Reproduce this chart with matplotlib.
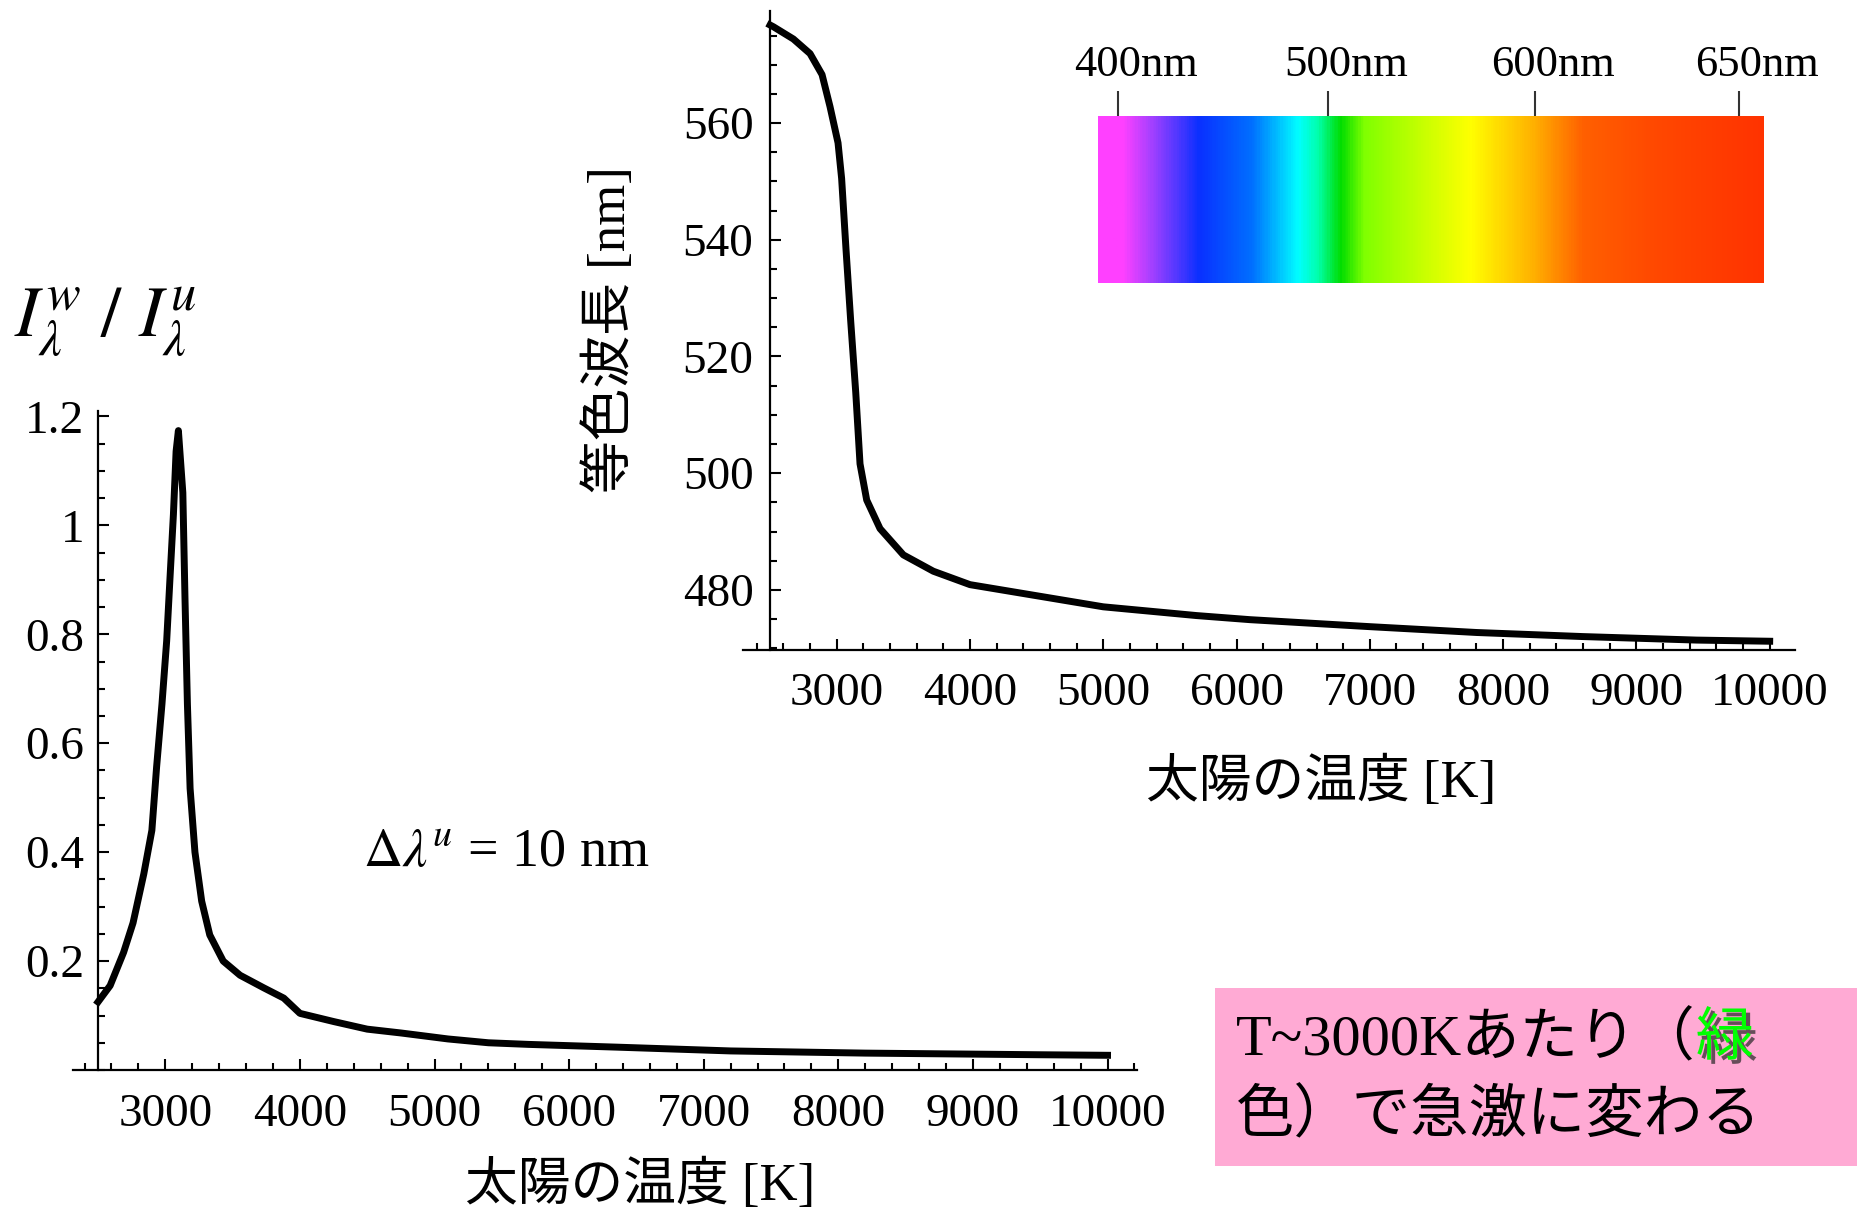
import numpy as np
import matplotlib
matplotlib.use("Agg")
import matplotlib.pyplot as plt
import matplotlib.patheffects as pe
from matplotlib.colors import LinearSegmentedColormap
from matplotlib.patches import Rectangle
from matplotlib.ticker import MultipleLocator, FixedLocator, FixedFormatter

plt.rcParams['mathtext.fontset'] = 'stix'

# ratio I_w / I_u vs sun temperature (left panel)
T_ratio = [2500, 2590, 2690, 2760, 2840, 2900, 2935, 2975, 3010, 3035, 3060,
           3080, 3097, 3130, 3146, 3164, 3184, 3220, 3270, 3330, 3430, 3555,
           3730, 3880, 4000, 4250, 4500, 4750, 5100, 5400, 5700, 6350, 7200,
           8200, 9500, 10000]
ratio = [0.125, 0.155, 0.216, 0.27, 0.36, 0.44, 0.556, 0.672, 0.788, 0.905,
         1.02, 1.136, 1.174, 1.06, 0.866, 0.672, 0.517, 0.40, 0.31, 0.248,
         0.20, 0.174, 0.151, 0.132, 0.104, 0.089, 0.075, 0.068, 0.057, 0.050,
         0.047, 0.042, 0.035, 0.031, 0.028, 0.027]

# matching wavelength vs sun temperature (right panel)
T_wave = [2500, 2525, 2675, 2800, 2890, 2950, 3010, 3037, 3070, 3105, 3143,
          3175, 3225, 3325, 3500, 3725, 4000, 4500, 5000, 5700, 6100, 7000,
          7800, 8600, 9450, 10000]
wave = [576.8, 576.5, 574.4, 571.9, 568.3, 562.8, 556.6, 550.5, 538.3, 526.1,
        513.8, 501.6, 495.4, 490.5, 486.0, 483.2, 480.9, 479.0, 477.1, 475.6,
        474.9, 473.7, 472.7, 472.0, 471.4, 471.2]

x_ticks = [3000, 4000, 5000, 6000, 7000, 8000, 9000, 10000]
ratio_ticks = [0.2, 0.4, 0.6, 0.8, 1.0, 1.2]
ratio_labels = ['0.2', '0.4', '0.6', '0.8', '1', '1.2']
wave_ticks = [480, 500, 520, 540, 560]

# colour bar of the visible spectrum
spectrum_labels = ['400nm', '500nm', '600nm', '650nm']
spectrum_tick_pos = [0.030, 0.345, 0.656, 0.962]
spectrum_stops = [0.0, 0.035, 0.08, 0.15, 0.23, 0.30, 0.33, 0.364, 0.40,
                  0.45, 0.56, 0.655, 0.73, 0.84, 1.0]
spectrum_colors = ['#FF40FF', '#FF40FF', '#A040FF', '#0A30FF', '#0070FF',
                   '#00FFFF', '#00FFAA', '#00DD00', '#80FF00', '#AAFF00',
                   '#FFFF00', '#FFB000', '#FF6000', '#FF4800', '#FF3300']

W, H = 1858, 1214
SERIF = 'Liberation Serif'
JP = ['Liberation Serif', 'Noto Sans CJK JP']

fig = plt.figure(figsize=(W / 100, H / 100), dpi=100)


def px_axes(x0, y0, x1, y1):
    # rectangle given in pixels from the top-left corner
    return fig.add_axes([x0 / W, 1 - y1 / H, (x1 - x0) / W, (y1 - y0) / H])


def style_axes(ax, y_minor):
    for s in ['top', 'right']:
        ax.spines[s].set_visible(False)
    ax.spines['left'].set_position(('data', 2500))
    for s in ['left', 'bottom']:
        ax.spines[s].set_linewidth(1.6)
    ax.xaxis.set_major_locator(FixedLocator(x_ticks))
    ax.xaxis.set_minor_locator(MultipleLocator(200))
    ax.yaxis.set_minor_locator(MultipleLocator(y_minor))
    ax.tick_params(which='both', direction='in', width=1.5)
    ax.tick_params(which='major', length=8)
    ax.tick_params(which='minor', length=5)
    for lab in ax.get_xticklabels() + ax.get_yticklabels():
        lab.set_fontfamily(SERIF)
        lab.set_fontsize(34)


# ---- left panel ----
axL = px_axes(73, 411, 1137, 1070)
axL.plot(T_ratio, ratio, color='black', lw=5)
axL.set_xlim(2314, 10219)
axL.set_ylim(0, 1.21)
axL.yaxis.set_major_locator(FixedLocator(ratio_ticks))
axL.yaxis.set_major_formatter(FixedFormatter(ratio_labels))
style_axes(axL, 0.05)
axL.tick_params(axis='x', pad=17)
axL.tick_params(axis='y', pad=10)

# ---- right panel ----
axR = px_axes(743, 11, 1795, 650)
axR.plot(T_wave, wave, color='black', lw=5)
axR.set_xlim(2297, 10190)
axR.set_ylim(469.7, 579.2)
axR.yaxis.set_major_locator(FixedLocator(wave_ticks))
style_axes(axR, 5)
axR.tick_params(axis='x', pad=16)
axR.tick_params(axis='y', pad=12)

# ---- labels ----
fig.text(105 / W, 1 - 322 / H, r'$I_{\lambda}^{w}\ /\ I_{\lambda}^{u}$',
         fontsize=52, ha='center', va='center')
fig.text(506 / W, 1 - 853 / H, r'$\Delta\lambda^{u}$ = 10 nm',
         fontsize=39, family=SERIF, ha='center', va='center')
fig.text(640 / W, 1 - 1185 / H, '太陽の温度 [K]', fontsize=38, family=JP,
         ha='center', va='center')
fig.text(1321 / W, 1 - 782 / H, '太陽の温度 [K]', fontsize=38, family=JP,
         ha='center', va='center')
fig.text(610 / W, 1 - 330 / H, '等色波長 [nm]', fontsize=38, family=JP,
         rotation=90, ha='center', va='center')

# ---- spectrum bar ----
axS = px_axes(1098, 116, 1764, 283)
cmap = LinearSegmentedColormap.from_list('spec', list(zip(spectrum_stops, spectrum_colors)))
axS.imshow(np.linspace(0, 1, 600)[None, :], cmap=cmap, aspect='auto',
           extent=[0, 1, 0, 1])
axS.set_xlim(0, 1)
axS.set_ylim(0, 1)
for s in axS.spines.values():
    s.set_visible(False)
axS.set_yticks([])
axS.xaxis.tick_top()
axS.set_xticks(spectrum_tick_pos)
axS.set_xticklabels([])
axS.tick_params(axis='x', direction='out', length=18, width=1.5,
                color='#333333')
for pos, lab in zip(spectrum_tick_pos, spectrum_labels):
    axS.annotate(lab, (pos, 1), xytext=(18, 51), textcoords='offset pixels',
                 family=SERIF, fontsize=32, ha='center', va='center')

# ---- pink note box ----
fig.patches.append(Rectangle((1215 / W, 1 - 1166 / H), (W - 1215) / W,
                             (1166 - 988) / H, transform=fig.transFigure,
                             facecolor='#FFAAD4', edgecolor='none', zorder=0))
t1 = fig.text(1236 / W, 1 - 1040 / H, 'T~3000Kあたり（', fontsize=42,
              family=JP, ha='left', va='center')
fig.canvas.draw()
bb = t1.get_window_extent(fig.canvas.get_renderer())
fig.text(bb.x1 / W, 1 - 1040 / H, '緑', fontsize=42, family=JP, color='#00FF00',
         ha='left', va='center',
         path_effects=[pe.SimplePatchShadow(offset=(3, -3), shadow_rgbFace='0.15', alpha=0.7),
                       pe.Normal()])
fig.text(1236 / W, 1 - 1117 / H, '色）で急激に変わる', fontsize=42, family=JP,
         ha='left', va='center')

fig.savefig('out.png', dpi=100)
